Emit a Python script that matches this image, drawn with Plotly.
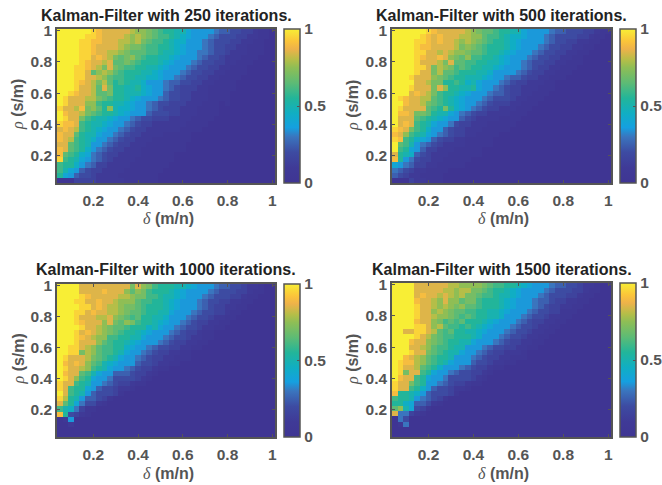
import numpy as np
import plotly.graph_objects as go

W, H = 662, 485
LEVELS = "0123456789abcdefghijk"  # one character = steps of 0.05

delta = np.arange(39) * 0.025 + 0.05
rho = np.linspace(0.04, 0.995, 30)[::-1]

titles = ["Kalman-Filter with 250 iterations.", "Kalman-Filter with 500 iterations.",
          "Kalman-Filter with 1000 iterations.", "Kalman-Filter with 1500 iterations."]

iter250 = """
kkkkkkjihhhhhgffedcbbaa8777765544332110
kkkkkjjihhhhgfgfedccba98777654443322110
kkkkjjiihhhggfgedccba997776544433221100
kkkkjjihhhhgfeedccbba987776544332211100
kkkkjjihhggfedddccbaa987766544322211100
kkkkjjhihgedefdcbbaa9877765443222111000
kkkkjihhghddedcbbba98777654433221110000
kkkjjihgehedccbbaa987776544332211100000
kkkjjhdfgfdcbbbaa987776544332211110000
kkkjjhhgfdccbbaa99877654433221111000000
kkkjihgegdbcbaa97776554433221111000000
kkkjhhgdhebbaab98776543332211111000000
kkjihhgddebbaaa98775443322211110000000
kjhhhggedcbba98777654433222111100000000
kjhhhffcbbaa987765443332221110100000000
jhhgiefdbfa99877654333222111100000000
kihhgedcbba9877754443322211110000000000
kjhhecbaa98776544333222211110000000000
jiihcbaa98776543322222211110000000000
hihgcba98776543322222211110000000000
ihhdbaa87765433222211111000000000000000
ihgcba977654332221111111000000000000000
hhdcba776543322211111110000000000000000
ihdcb9765433222111111110000000000000000
idcb986543322221111110000000000000000
jcba8765432222111111100000000000000000
cbb976533222211111110000000000000000000
ca875433222211111110000000000000000000
b87544322221111111000000000000000000000
000333322222111111000000000000000000000
"""

iter500 = """
kkkkkkjihhhhhgfeddcbbaa8777765544433211
kkkkkjihihhhggffdccba998777654444332110
kkkkjjihihhgfgfedcbba987777654433221100
kkkkjiihhhhgefedcbbba987776544332211000
kkkkjjhhghgffeddcbba9877765443322110000
kkkkjihhihfedfccbba98777654433221100000
kkkkjhhhgehddccbbaa98776544332211100000
kkkkjjhegfecdcbbaa987776543322111000000
kkkkjhhegddcbbbaa9777765433221110000000
kkkjhhhfedcbbaaa98776554332211100000000
kkkkhhgeebbcb9a87776543322211000000000
kkkjhhhehfbbaab87765433222111000000000
kkkhihgecbba98777655433221110000000000
kjihhggdcba98777654443221110000000000
kkihhgedcba98776543332211100000000000
kjhhhhdcbeb98765433222111000000000000
kiiheedbaa87654332222111000000000000000
khhhdcba987754322221111000000000000000
khihcba8776433222111110000000000000000
jihecb97754332221111100000000000000000
ihfcba87654332211110000000000000000000
jicb9875433221111100000000000000000000
kdca7654322221111100000000000000000000
kcb87533222111110000000000000000000000
hba95432221111110000000000000000000000
ib764332211111000000000000000000000000
87653322111110000000000000000000000000
65432211110000000000000000000000000000
54322111100000000000000000000000000000
00032211100000000000000000000000000000
"""

iter1000 = """
kkkkhhhhhhhhhehfecbbbaa9877765544322100
kkkkhhhhihhhfdfecbbba987777654443321100
kkkkjihhhhhggfeeccbaa987776544433211000
kkkjjhhihhgfffdccbba9877765443322110000
kkkkjjhihggfeedcbbba9877765433221100000
kkkjjhihhggfeddcbbaa8777654433211000000
kkkjhhhgghfedcdbbaa97776544322110000000
kkkjihhhfhedfecbba987765433221100000000
kkkkjhhgfeddcbbb9a877654432211000000000
kkkjhihgfedcbba9877765433211000000000
kkkjihgffccbbaa8777654432211000000000
kkkjhhhfdcbba98777654332211000000000000
kkjjhgfdccbb98776544332211000000000000
kkjjegfdccba877654332211000000000000000
kjhhhgedcba87765433221110000000000000000
kihihfdca98777544322110000000000000000
kjhhgfcba877654332110000000000000000000
kihhdca87755543321000000000000000000000
kjhfcb877644443210000000000000000000000
jhhcba776543321100000000000000000000000
jhcbb8754432210000000000000000000000000
khcba7544431000000000000000000000000000
jgba755431000000000000000000000000000000
hdb86442100000000000000000000000000000
ca963110000000000000000000000000000000
ib432100000000000000000000000000000000
017000000000000000000000000000000000000
002000000000000000000000000000000000000
000000000000000000000000000000000000000
000000000000000000000000000000000000000
"""

iter1500 = """
kkkkhhhhhhggffffedccbba9877765544322100
kkkkhhhhhggfggeedcbba987777654443321100
kkkkhihhghgfgeedccbaa987776544433211000
kkkkihhgfhffdeecbbba9877765543322110000
kkkkjhhgfgfefddcbbba9877765433221100000
kkkkjhhfgfeddccbbaa98777654433111000000
kkkkjhhgffedcdcbbaa97776544322110000000
kkkkihhfecdcdbbba9877765433221100000000
kkkkjjhfgdccbcba98777654432211000000000
kkhhjjhgdcdbbaa9877765443221100000000000
kkkkjhgedccbbba9777654432211000000000000
kkkihhfedcbbaa8777654332211000000000000
kkkhhgfdccbaa77765443322110000000000000
kkkjhhedcbaa8776543322210000000000000000
kkihgfdcbba777654332211100000000000000000
kjiigfdcba87775443221100000000000000000
kjhhgdcb977765433211000000000000000000
kjehhcb8776544332100000000000000000000
kihhcb877644443210000000000000000000000
jhhecb776543321100000000000000000000000
jhhcb97544322100000000000000000000000000
ibba975444310000000000000000000000000000
cbba765431000000000000000000000000000000
bb9855421000000000000000000000000000000
dfa84310000000000000000000000000000000
h66321000000000000000000000000000000000
064000000000000000000000000000000000000
016000000000000000000000000000000000000
000000000000000000000000000000000000000
000000000000000000000000000000000000000
"""


def decode(block):
    rows = block.split()
    return [[LEVELS.index(ch) * 0.05 for ch in r.ljust(39, "0")[:39]] for r in rows]


panels = [iter250, iter500, iter1000, iter1500]

scale = [[0.0, "#3F3593"], [0.1, "#3F3A97"], [0.2, "#3D4BA2"], [0.3, "#3A75BE"], [0.36, "#15A0E0"],
         [0.45, "#10AEC4"], [0.55, "#22B59A"], [0.65, "#5DBB75"], [0.75, "#8FBE55"], [0.8, "#B5BE48"],
         [0.87, "#EEB24A"], [0.92, "#FBC43A"], [1.0, "#F8EE35"]]

boxes = [(57, 275, 29, 183), (392, 611, 29, 183), (57, 275, 284, 437), (392, 611, 283, 437)]
title_y = [16, 16, 269, 269]
cbar_x = [284, 620, 284, 620]
GREY = "#555555"
FONT = "Liberation Sans"

fig = go.Figure()
annots = []
for i, (block, box) in enumerate(zip(panels, boxes)):
    l, r, t, b = box
    n = "" if i == 0 else str(i + 1)
    fig.add_trace(go.Heatmap(
        z=decode(block), x=delta, y=rho, zmin=0, zmax=1, colorscale=scale, xaxis="x" + n, yaxis="y" + n,
        colorbar=dict(x=cbar_x[i] / W, xanchor="left", xpad=0, ypad=0, y=1 - (t + b) / 2 / H, yanchor="middle",
                      len=(b - t) / H, lenmode="fraction", thickness=16, thicknessmode="pixels",
                      tickvals=[0, 0.5, 1], ticktext=["0", "0.5", "1"], ticks="inside", ticklen=3, tickcolor=GREY,
                      outlinecolor=GREY, outlinewidth=1.5,
                      tickfont=dict(family=FONT, size=15.5, color=GREY, weight=700))))
    ax = dict(showgrid=False, zeroline=False, showline=True, linecolor=GREY, linewidth=1.5, mirror="ticks",
              ticks="inside", ticklen=3, tickcolor=GREY, tickwidth=1,
              tickvals=[0.2, 0.4, 0.6, 0.8, 1], ticktext=["0.2", "0.4", "0.6", "0.8", "1"],
              tickfont=dict(family=FONT, size=15.5, color=GREY, weight=700))
    fig.layout["xaxis" + n] = dict(ax, domain=[l / W, r / W], range=[0.0375, 1.0125], anchor="y" + n,
                                   ticklabelstandoff=3)
    fig.layout["yaxis" + n] = dict(ax, domain=[1 - b / H, 1 - t / H], range=[0.0235, 1.0115], anchor="x" + n)
    cx = (l + r) / 2
    annots.append(dict(text="<b>%s</b>" % titles[i], x=cx / W, y=1 - title_y[i] / H, xref="paper", yref="paper",
                       showarrow=False, xanchor="center", yanchor="middle",
                       font=dict(family=FONT, size=16, color="#222222")))
    annots.append(dict(text="<i><span style='font-family:Liberation Serif'>δ</span></i> <b>(m/n)</b>",
                       x=(cx + 2) / W, y=1 - (b + 36) / H, xref="paper", yref="paper", showarrow=False,
                       xanchor="center", yanchor="middle", font=dict(family=FONT, size=16, color=GREY)))
    annots.append(dict(text="<i><span style='font-family:Liberation Serif'>ρ</span></i> <b>(s/m)</b>",
                       x=(l - 39) / W, y=1 - ((t + b) / 2 - 1) / H, xref="paper", yref="paper", showarrow=False,
                       xanchor="center", yanchor="middle", textangle=-90, font=dict(family=FONT, size=16, color=GREY)))

fig.update_layout(width=W, height=H, margin=dict(l=0, r=0, t=0, b=0, autoexpand=False), paper_bgcolor="white",
                  plot_bgcolor="white", annotations=annots, showlegend=False)
fig.write_html("out.html", config={"displayModeBar": False},
               post_script="document.body.style.margin='0';document.body.style.overflow='hidden';")
